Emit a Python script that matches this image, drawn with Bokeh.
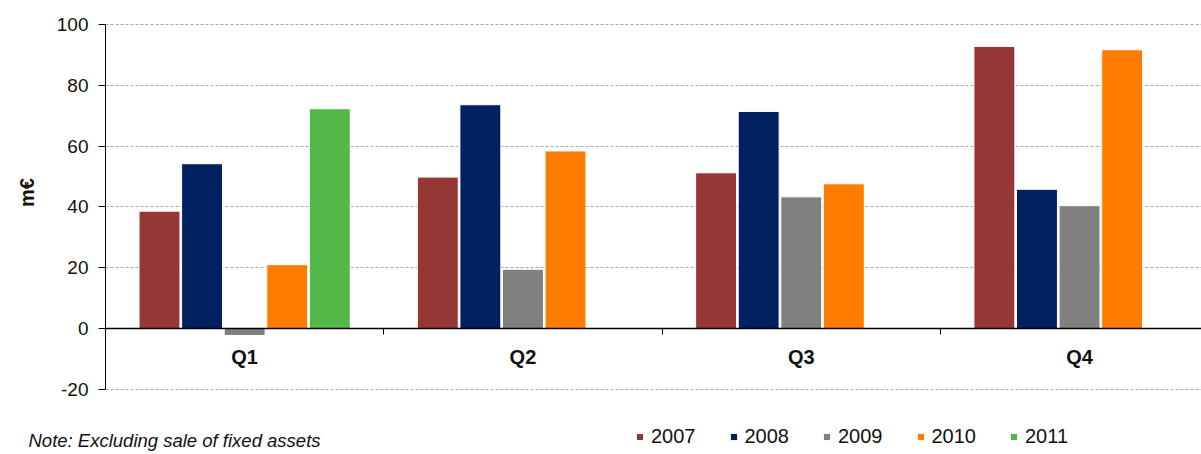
import numpy as np
from bokeh.plotting import figure
from bokeh.models import Range1d, FixedTicker, Legend, LegendItem, Label
from bokeh.embed import file_html
from bokeh.resources import INLINE

quarters = ["Q1", "Q2", "Q3", "Q4"]
years = ["2007", "2008", "2009", "2010", "2011"]
v2007 = [38.6, 49.8, 51.2, 92.8]
v2008 = [54.2, 73.6, 71.4, 45.8]
v2009 = [-2.3, 19.5, 43.3, 40.4]
v2010 = [21.0, 58.4, 47.6, 91.7]
v2011 = [72.3, None, None, None]
series = [v2007, v2008, v2009, v2010, v2011]
colors = ["#953735", "#002060", "#808080", "#FF7C00", "#53B848"]
y_ticks = [-20, 0, 20, 40, 60, 80, 100]
y_tick_labels = ["-20", "0", "20", "40", "60", "80", "100"]
y_label = "m€"
note = "Note: Excluding sale of fixed assets"

FONT = "Liberation Sans"
TXT = "#111111"

W, H = 1201, 454
LEFT, TOP = 105, 24          # pixel position of the plotting area
PX_X = 278.3                  # pixels per category
PX_Y = 3.04                   # pixels per unit

n = len(quarters)
x_end = (W - LEFT) / PX_X
p = figure(width=W, height=H, output_backend="svg", toolbar_location=None,
           x_range=Range1d(-LEFT / PX_X, x_end),
           y_range=Range1d(min(y_ticks) - (H - TOP - (max(y_ticks) - min(y_ticks)) * PX_Y) / PX_Y,
                           max(y_ticks) + TOP / PX_Y),
           min_border=0, outline_line_color=None)

pitch = 0.153
items = []
for j, (yr, vals, col) in enumerate(zip(years, series, colors)):
    xs = [i + 0.5 + (j - 2) * pitch for i, v in enumerate(vals) if v is not None]
    tops = [v for v in vals if v is not None]
    r = p.vbar(x=xs, top=tops, bottom=0, width=0.147, fill_color=col,
               line_color="white", line_width=1)
    items.append(LegendItem(label=yr, renderers=[r]))

# y axis, placed at x = 0
p.yaxis.fixed_location = 0
p.yaxis.ticker = FixedTicker(ticks=y_ticks)
p.yaxis.major_label_overrides = {t: s for t, s in zip(y_ticks, y_tick_labels)}
p.yaxis.bounds = (min(y_ticks), max(y_ticks))
p.yaxis.axis_line_color = "#000000"
p.yaxis.major_tick_line_color = "#000000"
p.yaxis.major_tick_out = 7
p.yaxis.major_tick_in = 0
p.yaxis.minor_tick_line_color = None
p.yaxis.major_label_text_font = FONT
p.yaxis.major_label_text_font_size = "19px"
p.yaxis.major_label_text_color = TXT
p.yaxis.major_label_standoff = 10

# grid
p.xgrid.visible = False
p.ygrid.ticker = FixedTicker(ticks=y_ticks)
p.ygrid.bounds = (min(y_ticks), max(y_ticks))
p.ygrid.cross_bounds = (0, x_end)
p.ygrid.grid_line_color = "#A8A8A8"
p.ygrid.grid_line_dash = "3 2"
p.ygrid.grid_line_width = 1

# x axis at zero
centers = [i + 0.5 for i in range(n)]
p.xaxis.fixed_location = 0
p.xaxis.bounds = (0, x_end)
p.xaxis.ticker = FixedTicker(ticks=centers, minor_ticks=list(range(1, n + 1)))
p.xaxis.major_label_overrides = {c: q for c, q in zip(centers, quarters)}
p.xaxis.axis_line_color = "#000000"
p.xaxis.axis_line_width = 1.5
p.xaxis.major_tick_line_color = None
p.xaxis.minor_tick_line_color = "#000000"
p.xaxis.minor_tick_out = 6
p.xaxis.minor_tick_in = 0
p.xaxis.major_label_text_font = FONT
p.xaxis.major_label_text_font_size = "20px"
p.xaxis.major_label_text_font_style = "bold"
p.xaxis.major_label_text_color = TXT
p.xaxis.major_label_standoff = 11

# y-axis title
p.add_layout(Label(x=26, y=H - 192, x_units="screen", y_units="screen",
                   text=y_label, angle=np.pi / 2, text_align="center",
                   text_baseline="middle", text_font=FONT, text_font_size="20px",
                   text_font_style="bold", text_color=TXT))

legend = Legend(items=items, orientation="horizontal", location=(LEFT + 530, 6),
                glyph_width=9, glyph_height=9, label_standoff=7, spacing=33,
                padding=0, margin=0, border_line_color=None,
                background_fill_alpha=0, label_text_font=FONT,
                label_text_font_size="20px", label_text_color=TXT,
                label_height=20)
p.add_layout(legend, "center")

p.add_layout(Label(x=28, y=H - 440, x_units="screen", y_units="screen", text=note,
                   text_font=FONT, text_font_size="18.5px", text_font_style="italic",
                   text_color=TXT, text_baseline="middle"))

open("out.html", "w").write(file_html(p, INLINE))
